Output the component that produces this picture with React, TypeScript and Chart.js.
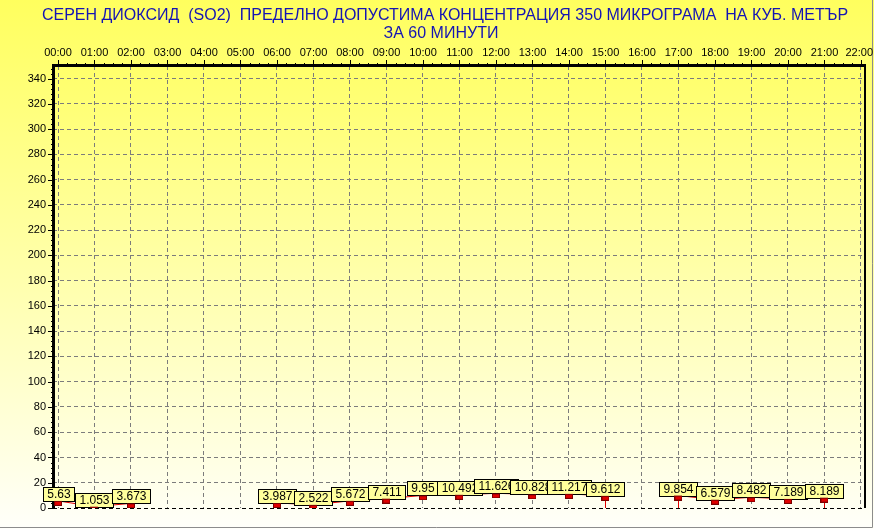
import React, { useEffect, useRef } from 'react';
import { Chart, registerables } from 'chart.js';

Chart.register(...registerables);

const hours = [
  '00:00', '01:00', '02:00', '03:00', '04:00', '05:00', '06:00', '07:00', '08:00', '09:00', '10:00', '11:00',
  '12:00', '13:00', '14:00', '15:00', '16:00', '17:00', '18:00', '19:00', '20:00', '21:00', '22:00',
];
const so2Values: (number | null)[] = [
  5.63, 1.053, 3.673, null, null, null, 3.987, 2.522, 5.672, 7.411, 9.95, 10.492,
  11.626, 10.828, 11.217, 9.612, null, 9.854, 6.579, 8.482, 7.189, 8.189, null,
];
const yTicks = [0, 20, 40, 60, 80, 100, 120, 140, 160, 180, 200, 220, 240, 260, 280, 300, 320, 340];
const yMax = 350;
const titleLines = [
  'СЕРЕН ДИОКСИД  (SO2)  ПРЕДЕЛНО ДОПУСТИМА КОНЦЕНТРАЦИЯ 350 МИКРОГРАМА  НА КУБ. МЕТЪР',
  'ЗА 60 МИНУТИ',
];

const FONT = '"Liberation Sans", Arial, sans-serif';

function makeMarker(): HTMLCanvasElement {
  const c = document.createElement('canvas');
  c.width = 8;
  c.height = 10;
  const g = c.getContext('2d')!;
  g.fillStyle = '#e00000';
  g.fillRect(0, 5, 8, 5);
  g.strokeStyle = '#7a0000';
  g.lineWidth = 1;
  g.strokeRect(0.5, 5.5, 7, 4);
  return c;
}

const backgroundPlugin = {
  id: 'bgFrame',
  beforeDraw(chart: any) {
    const { ctx, width, height, chartArea } = chart;
    ctx.save();
    const g = ctx.createLinearGradient(0, 0, 0, height);
    g.addColorStop(0, '#ffff5e');
    g.addColorStop(0.55, '#ffffb0');
    g.addColorStop(1, '#fffffa');
    ctx.fillStyle = g;
    ctx.fillRect(0, 0, width, height);

    const pg = ctx.createLinearGradient(0, chartArea.top, 0, chartArea.bottom);
    pg.addColorStop(0, '#ffff6a');
    pg.addColorStop(0.5, '#ffffae');
    pg.addColorStop(1, '#fffff2');
    ctx.fillStyle = pg;
    ctx.fillRect(chartArea.left, chartArea.top, chartArea.right - chartArea.left, chartArea.bottom - chartArea.top);

    // title
    ctx.fillStyle = '#1414b4';
    ctx.font = '16px ' + FONT;
    ctx.textAlign = 'center';
    ctx.textBaseline = 'alphabetic';
    ctx.fillText(titleLines[0], 445, 20);
    ctx.fillText(titleLines[1], 441, 38);

    // outer frame
    ctx.strokeStyle = '#8c8c8c';
    ctx.lineWidth = 1;
    ctx.beginPath();
    ctx.moveTo(872.5, 0);
    ctx.lineTo(872.5, 527.5);
    ctx.lineTo(0, 527.5);
    ctx.stroke();
    ctx.restore();
  },
  beforeDatasetsDraw(chart: any) {
    const { ctx, chartArea, scales } = chart;
    const xs = scales.x;
    const ys = scales.y;
    const { left, right, top, bottom } = chartArea;
    ctx.save();
    ctx.strokeStyle = '#000';
    ctx.setLineDash([]);
    // left axis
    ctx.lineWidth = 3;
    ctx.beginPath();
    ctx.moveTo(left + 0.5, top - 1.5);
    ctx.lineTo(left + 0.5, bottom + 1);
    ctx.stroke();
    // top
    ctx.beginPath();
    ctx.moveTo(left - 1, top - 0.5);
    ctx.lineTo(right + 1, top - 0.5);
    ctx.stroke();
    // right
    ctx.lineWidth = 2;
    ctx.beginPath();
    ctx.moveTo(right, top - 1);
    ctx.lineTo(right, bottom);
    ctx.stroke();

    // ticks
    ctx.lineWidth = 1;
    ctx.beginPath();
    for (const v of yTicks) {
      const py = Math.round(ys.getPixelForValue(v)) + 0.5;
      ctx.moveTo(left - 5, py);
      ctx.lineTo(left, py);
    }
    for (let v = 0; v <= yMax; v += 4) {
      if (v % 20 === 0) continue;
      const py = Math.round(ys.getPixelForValue(v)) + 0.5;
      ctx.moveTo(left - 2, py);
      ctx.lineTo(left, py);
    }
    for (let i = 0; i < hours.length; i++) {
      const px = Math.round(xs.getPixelForValue(i)) + 0.5;
      ctx.moveTo(px, top - 6);
      ctx.lineTo(px, top - 1);
      if (i < hours.length - 1) {
        for (let q = 1; q < 4; q++) {
          const mx = Math.round(xs.getPixelForValue(i + q / 4)) + 0.5;
          ctx.moveTo(mx, top - 3);
          ctx.lineTo(mx, top - 1);
        }
      }
    }
    ctx.stroke();

    // labels
    ctx.fillStyle = '#000';
    ctx.font = '11px ' + FONT;
    ctx.textAlign = 'right';
    ctx.textBaseline = 'middle';
    for (const v of yTicks) {
      ctx.fillText(String(v), left - 7, ys.getPixelForValue(v));
    }
    ctx.textAlign = 'center';
    for (let i = 0; i < hours.length; i++) {
      const w = ctx.measureText(hours[i]).width;
      let px = xs.getPixelForValue(i);
      if (px + w / 2 > 873) px = 873 - w / 2;
      ctx.fillText(hours[i], px, 53);
    }
    ctx.restore();
  },
  beforeDatasetDraw(chart: any, args: any) {
    if (args.index !== 0) return;
    const { ctx, chartArea, scales } = chart;
    const xs = scales.x;
    const ys = scales.y;
    ctx.save();
    // drop lines next to gaps
    ctx.strokeStyle = '#e00000';
    ctx.lineWidth = 1;
    ctx.beginPath();
    so2Values.forEach((v, i) => {
      if (v === null) return;
      const prevGap = i > 0 && so2Values[i - 1] === null;
      const nextGap = i < so2Values.length - 1 && so2Values[i + 1] === null;
      if (prevGap || nextGap) {
        const px = Math.round(xs.getPixelForValue(i)) + 0.5;
        ctx.moveTo(px, ys.getPixelForValue(v));
        ctx.lineTo(px, chartArea.bottom);
      }
    });
    ctx.stroke();

    // value boxes
    ctx.font = '12px ' + FONT;
    ctx.textAlign = 'center';
    ctx.textBaseline = 'middle';
    so2Values.forEach((v, i) => {
      if (v === null) return;
      const px = xs.getPixelForValue(i);
      const py = ys.getPixelForValue(v);
      const text = String(v);
      const w = Math.round(ctx.measureText(text).width) + 8;
      const h = 14;
      const bx = Math.round(px - w / 2) + 0.5;
      const by = Math.round(py - h) + 0.5;
      ctx.fillStyle = '#ffff9c';
      ctx.fillRect(bx, by, w, h);
      ctx.strokeStyle = '#000';
      ctx.strokeRect(bx, by, w, h);
      ctx.fillStyle = '#000';
      ctx.fillText(text, bx + w / 2, by + h / 2 + 0.5);
    });
    ctx.restore();
  },
};

export default function App() {
  const ref = useRef<HTMLCanvasElement>(null);
  useEffect(() => {
    document.body.style.margin = '0';
    document.body.style.overflow = 'hidden';
    const canvas = ref.current!;
    const points = so2Values.map((v, i) => ({ x: i, y: v }));
    const marker = makeMarker();
    const chart = new Chart(canvas, {
      type: 'line',
      data: {
        datasets: [
          {
            label: 'markers',
            data: points as any,
            showLine: false,
            pointStyle: marker as any,
            pointRadius: 4,
            order: 0,
          },
          {
            label: 'SO2',
            data: points as any,
            borderColor: '#e00000',
            borderWidth: 1,
            pointRadius: 0,
            spanGaps: false,
            order: 1,
          },
        ],
      },
      options: {
        animation: false,
        responsive: false,
        maintainAspectRatio: false,
        events: [],
        layout: { padding: { left: 0, top: 0, right: 9, bottom: 21 } },
        plugins: {
          legend: { display: false },
          tooltip: { enabled: false },
          title: { display: false },
        },
        scales: {
          x: {
            type: 'linear',
            position: 'top',
            min: -0.137,
            max: 22.11,
            afterBuildTicks: (s: any) => {
              s.ticks = hours.map((_, i) => ({ value: i }));
            },
            afterFit: (s: any) => {
              s.height = 66;
            },
            ticks: { display: false },
            grid: { color: '#7c7c7c', lineWidth: 1, drawTicks: false },
            border: { display: false, dash: [4, 3] },
          },
          y: {
            type: 'linear',
            min: 0,
            max: yMax,
            afterBuildTicks: (s: any) => {
              s.ticks = yTicks.map((v) => ({ value: v }));
            },
            afterFit: (s: any) => {
              s.width = 53;
            },
            ticks: { display: false },
            grid: {
              color: (c: any) => (c.tick && c.tick.value === 0 ? '#000' : '#7c7c7c'),
              lineWidth: 1,
              drawTicks: false,
            },
            border: { display: false, dash: [4, 3] },
          },
        },
      } as any,
      plugins: [backgroundPlugin],
    });
    return () => chart.destroy();
  }, []);
  return <canvas ref={ref} width={874} height={529} style={{ display: 'block' }} />;
}
